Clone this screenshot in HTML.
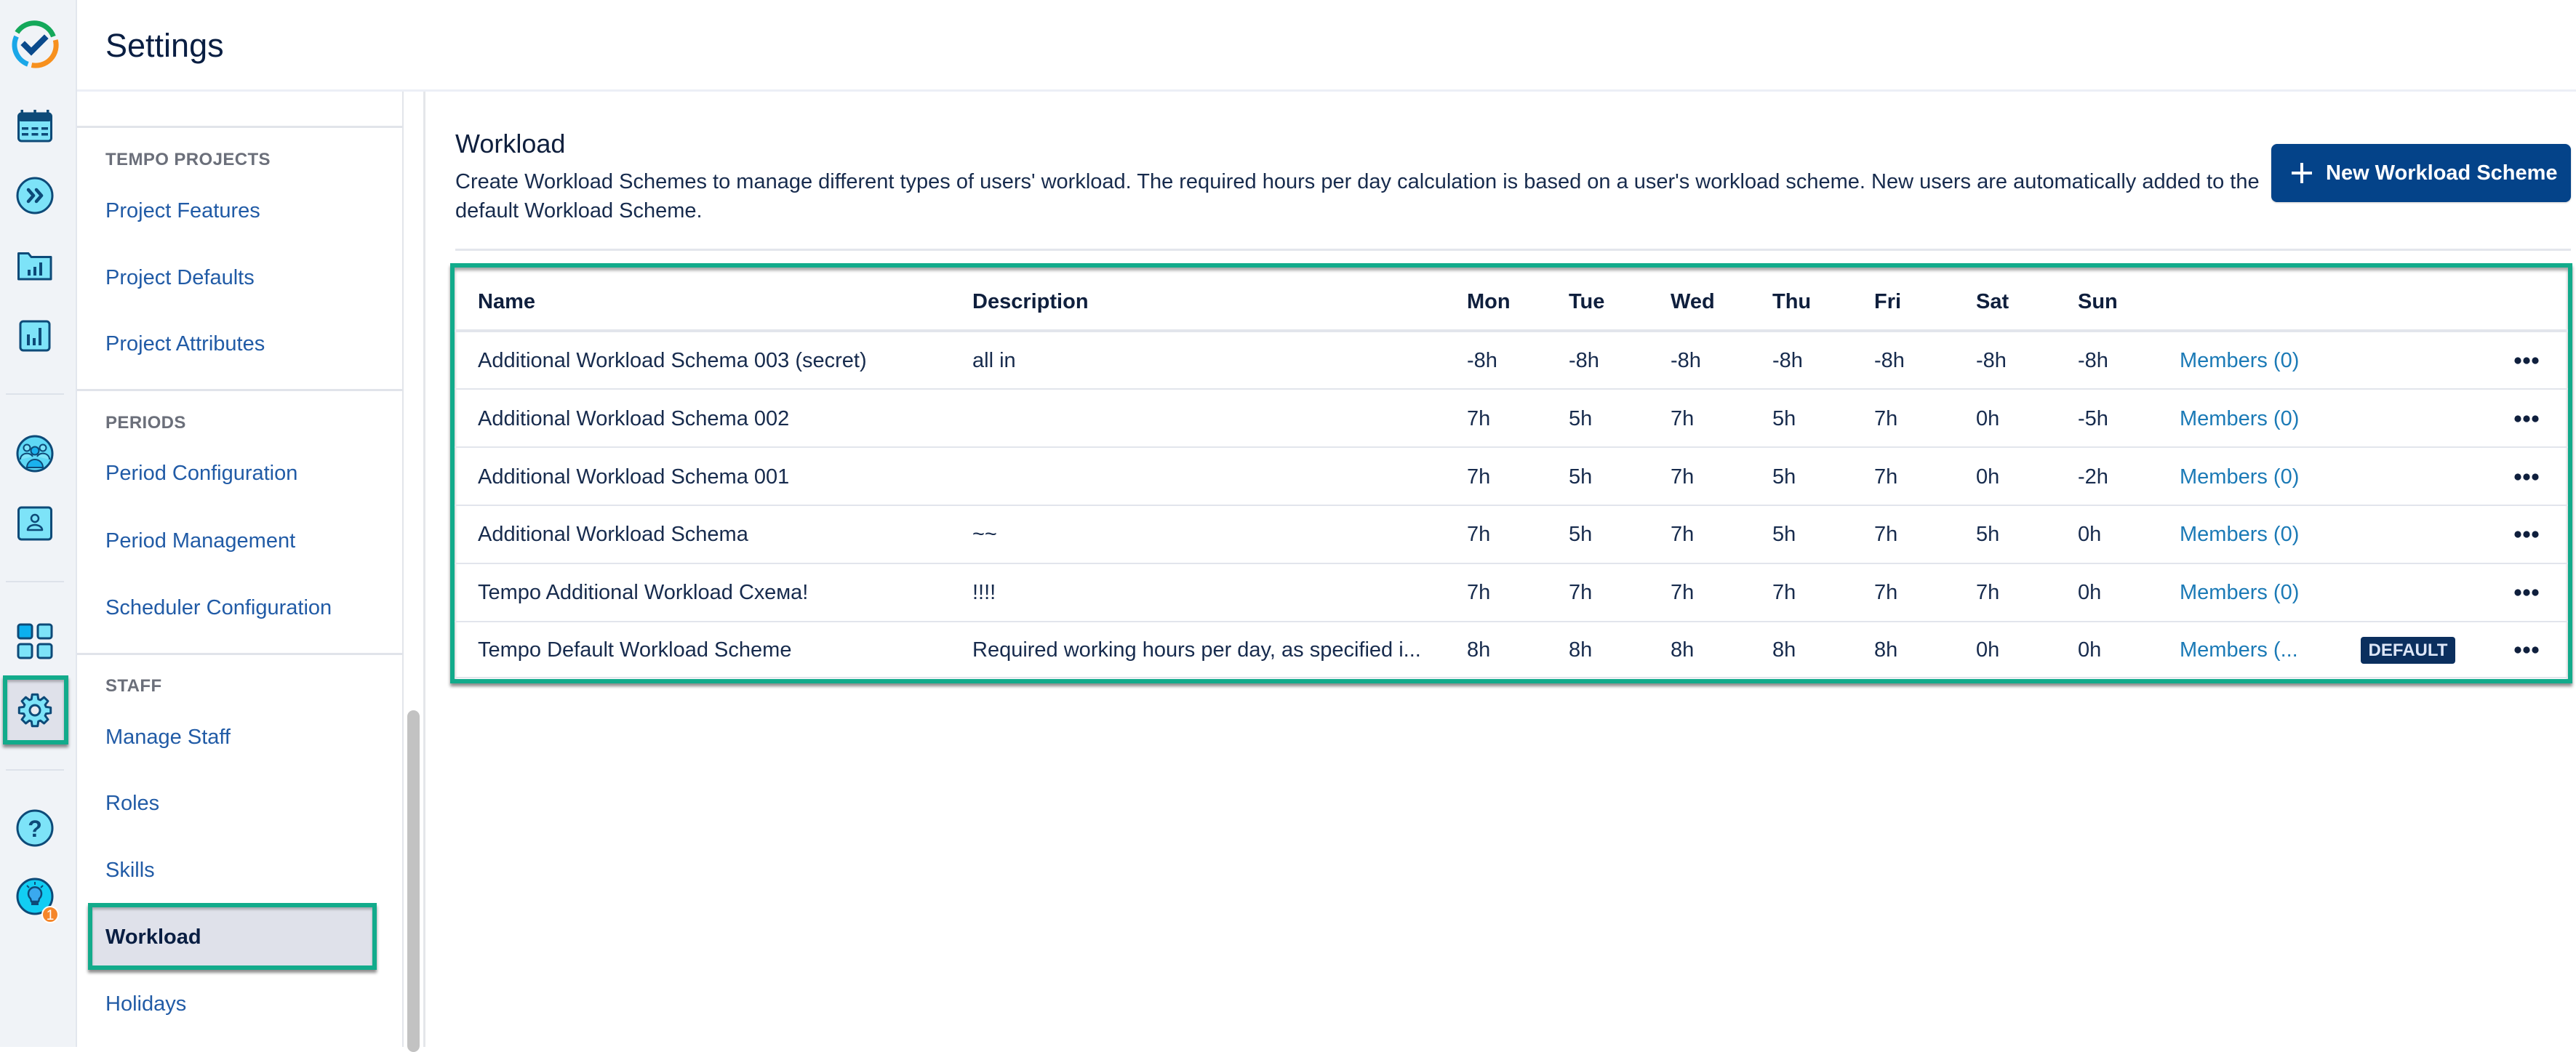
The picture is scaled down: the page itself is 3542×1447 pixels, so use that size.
<!DOCTYPE html>
<html>
<head>
<meta charset="utf-8">
<style>
html,body{margin:0;padding:0;}
body{width:3542px;height:1440px;overflow:hidden;position:relative;background:#fff;font-family:"Liberation Sans",Arial,sans-serif;color:#172b4d;}
.a{position:absolute;}
.t{position:absolute;white-space:nowrap;line-height:40px;height:40px;font-size:29px;}
.lnk{color:#215ba6;left:145px;}
.sec{color:#6b6f7a;font-weight:bold;font-size:24px;letter-spacing:0.4px;left:145px;}
.hd{font-weight:bold;color:#0f1f3d;}
.mem{color:#1b7ab6;}
.hl{position:absolute;background:#e2e5ec;}
</style>
</head>
<body>

<!-- left rail -->
<div class="a" style="left:0;top:0;width:104px;height:1440px;background:#f0f3f7;border-right:2px solid #e3e7ee;"></div>

<!-- gear highlight box -->
<div class="a" style="left:4px;top:929px;width:90px;height:95px;box-sizing:border-box;border:6px solid #12ab8b;background:#dfe1ea;box-shadow:0 4px 4px rgba(0,0,0,0.45), inset 0 3px 3px rgba(0,0,0,0.25);"></div>

<svg class="a" style="left:0;top:0" width="104" height="1440" viewBox="0 0 104 1440">
  <!-- logo -->
  <path d="M23.4,44.8 A28,28 0 0 1 73.4,50.2" fill="none" stroke="#14a85a" stroke-width="7"/>
  <path d="M76.2,55 A28,28 0 0 1 43.5,89.6" fill="none" stroke="#f7901e" stroke-width="7"/>
  <path d="M38.4,88.3 A28,28 0 0 1 22.6,50.2" fill="none" stroke="#1aa7e8" stroke-width="7"/>
  <polyline points="34,62 43,71 61,53" fill="none" stroke="#0a4a8c" stroke-width="8" stroke-linecap="square"/>

  <!-- calendar -->
  <rect x="25.5" y="156" width="45" height="38" rx="4" fill="#7de3f8" stroke="#0d4a78" stroke-width="3"/>
  <rect x="25.5" y="156" width="45" height="11" rx="3" fill="#0d4a78"/>
  <rect x="28.5" y="151" width="3.5" height="8" fill="#0d4a78"/>
  <rect x="46.3" y="151" width="3.5" height="8" fill="#0d4a78"/>
  <rect x="64" y="151" width="3.5" height="8" fill="#0d4a78"/>
  <g fill="#0d4a78">
    <rect x="30" y="175" width="9" height="3.5"/><rect x="43.5" y="175" width="9" height="3.5"/><rect x="57" y="175" width="9" height="3.5"/>
    <rect x="30" y="183" width="9" height="3.5"/><rect x="43.5" y="183" width="9" height="3.5"/><rect x="57" y="183" width="9" height="3.5"/>
  </g>

  <!-- >> circle -->
  <circle cx="48" cy="269" r="24" fill="#7de3f8" stroke="#0d4a78" stroke-width="3"/>
  <polyline points="39,261 46,269 39,277" fill="none" stroke="#0d4a78" stroke-width="4.5" stroke-linecap="round" stroke-linejoin="round"/>
  <polyline points="50,261 57,269 50,277" fill="none" stroke="#0d4a78" stroke-width="4.5" stroke-linecap="round" stroke-linejoin="round"/>

  <!-- folder -->
  <path d="M25.5,348.5 L39,348.5 L43,353.5 L70,353.5 L70,384 L25.5,384 Z" fill="#7de3f8" stroke="#0d4a78" stroke-width="3" stroke-linejoin="round"/>
  <g fill="#0d4a78"><rect x="38" y="371" width="4" height="8"/><rect x="46" y="367" width="4" height="12"/><rect x="54" y="361" width="4" height="18"/></g>

  <!-- chart box -->
  <rect x="28" y="442" width="40" height="40" rx="4" fill="#7de3f8" stroke="#0d4a78" stroke-width="3"/>
  <g fill="#0d4a78"><rect x="37" y="460" width="4" height="15"/><rect x="45" y="465" width="4" height="10"/><rect x="53" y="451" width="4" height="24"/></g>

  <line x1="8" y1="542" x2="88" y2="542" stroke="#dde2ea" stroke-width="2"/>

  <!-- team -->
  <circle cx="48" cy="624" r="24" fill="#5fd8f5" stroke="#0d4a78" stroke-width="3"/>
  <circle cx="37" cy="616" r="4.5" fill="#7de3f8" stroke="#0d4a78" stroke-width="2"/>
  <circle cx="59" cy="616" r="4.5" fill="#7de3f8" stroke="#0d4a78" stroke-width="2"/>
  <path d="M28,632 a9,8 0 0 1 17,-4" fill="#7de3f8" stroke="#0d4a78" stroke-width="2"/>
  <path d="M51,628 a9,8 0 0 1 17,4" fill="#7de3f8" stroke="#0d4a78" stroke-width="2"/>
  <circle cx="48" cy="620" r="5.5" fill="#1ab2ee" stroke="#0d4a78" stroke-width="2"/>
  <path d="M37,643 a11,11 0 0 1 22,0 Z" fill="#1ab2ee" stroke="#0d4a78" stroke-width="2"/>

  <!-- person box -->
  <rect x="25.5" y="698" width="45" height="44" rx="4" fill="#7de3f8" stroke="#0d4a78" stroke-width="3"/>
  <circle cx="48" cy="713" r="5" fill="none" stroke="#0d4a78" stroke-width="2.5"/>
  <path d="M38,729 a10,7 0 0 1 20,0 Z" fill="none" stroke="#0d4a78" stroke-width="2.5" stroke-linejoin="round"/>

  <line x1="8" y1="800" x2="88" y2="800" stroke="#dde2ea" stroke-width="2"/>

  <!-- grid -->
  <rect x="25" y="859" width="19" height="19" rx="3" fill="#0cb0ef" stroke="#0d4a78" stroke-width="3"/>
  <rect x="52" y="859" width="19" height="19" rx="3" fill="#7de3f8" stroke="#0d4a78" stroke-width="3"/>
  <rect x="25" y="886" width="19" height="19" rx="3" fill="#7de3f8" stroke="#0d4a78" stroke-width="3"/>
  <rect x="52" y="886" width="19" height="19" rx="3" fill="#7de3f8" stroke="#0d4a78" stroke-width="3"/>

  <!-- gear -->
  <polygon points="63.3,972.3 69.7,973.2 69.7,980.8 63.3,981.7 62.1,984.5 66,989.6 60.6,995 55.5,991.1 52.7,992.3 51.8,998.7 44.2,998.7 43.3,992.3 40.5,991.1 35.4,995 30,989.6 33.9,984.5 32.7,981.7 26.3,980.8 26.3,973.2 32.7,972.3 33.9,969.5 30,964.4 35.4,959 40.5,962.9 43.3,961.7 44.2,955.3 51.8,955.3 52.7,961.7 55.5,962.9 60.6,959 66,964.4 62.1,969.5" fill="#7de3f8" stroke="#0d4a78" stroke-width="3" stroke-linejoin="round"/>
  <circle cx="48" cy="977" r="7" fill="#e8eaf0" stroke="#0d4a78" stroke-width="3"/>

  <line x1="8" y1="1059" x2="88" y2="1059" stroke="#dde2ea" stroke-width="2"/>

  <!-- help -->
  <circle cx="48" cy="1139" r="24" fill="#7de3f8" stroke="#0d4a78" stroke-width="3"/>
  <text x="48" y="1151" text-anchor="middle" font-family="Liberation Sans, sans-serif" font-weight="bold" font-size="32" fill="#0d4a78">?</text>

  <!-- bulb -->
  <circle cx="48" cy="1233" r="24" fill="#12cdf3" stroke="#0d4a78" stroke-width="3"/>
  <path d="M42,1236 a9,9 0 1 1 12,0 L53,1240 L43,1240 Z" fill="#3aa9ee" stroke="#0d4a78" stroke-width="2.5" stroke-linejoin="round"/>
  <rect x="43" y="1241" width="10" height="4" fill="#0d4a78"/>
  <g stroke="#0d4a78" stroke-width="2"><line x1="48" y1="1213" x2="48" y2="1217"/><line x1="37" y1="1218" x2="40" y2="1221"/><line x1="59" y1="1218" x2="56" y2="1221"/></g>
  <circle cx="69" cy="1258" r="11" fill="#f5862a" stroke="#fff" stroke-width="2"/>
  <text x="69" y="1265" text-anchor="middle" font-family="Liberation Sans, sans-serif" font-size="19" fill="#fff">1</text>
</svg>

<!-- header -->
<div class="a" style="left:106px;top:0;width:3436px;height:123px;background:#fff;border-bottom:3px solid #eceff6;"></div>
<div class="t" style="left:145px;top:38px;height:50px;line-height:50px;font-size:45px;color:#091e42;">Settings</div>

<!-- sidebar -->
<div class="a" style="left:553px;top:126px;width:2px;height:1314px;background:#e2e5ea;"></div>
<div class="a" style="left:582px;top:126px;width:3px;height:1314px;background:#e4e6ea;"></div>
<div class="a" style="left:560px;top:977px;width:17px;height:470px;border-radius:9px;background:#c2c2c2;"></div>

<div class="a" style="left:106px;top:173px;width:447px;height:3px;background:#e1e4ea;"></div>
<div class="a" style="left:106px;top:535px;width:447px;height:3px;background:#e1e4ea;"></div>
<div class="a" style="left:106px;top:898px;width:447px;height:3px;background:#e1e4ea;"></div>

<div class="t sec" style="top:200px;">TEMPO PROJECTS</div>
<div class="t lnk" style="top:270px;">Project Features</div>
<div class="t lnk" style="top:362px;">Project Defaults</div>
<div class="t lnk" style="top:453px;">Project Attributes</div>
<div class="t sec" style="top:562px;">PERIODS</div>
<div class="t lnk" style="top:631px;">Period Configuration</div>
<div class="t lnk" style="top:724px;">Period Management</div>
<div class="t lnk" style="top:816px;">Scheduler Configuration</div>
<div class="t sec" style="top:924px;">STAFF</div>
<div class="t lnk" style="top:994px;">Manage Staff</div>
<div class="t lnk" style="top:1085px;">Roles</div>
<div class="t lnk" style="top:1177px;">Skills</div>
<div class="a" style="left:121px;top:1242px;width:397px;height:92px;box-sizing:border-box;border:6px solid #12ab8b;background:#dfe1ea;box-shadow:0 4px 4px rgba(0,0,0,0.45), inset 0 3px 3px rgba(0,0,0,0.25);"></div>
<div class="t" style="left:145px;top:1269px;font-weight:bold;color:#091e42;">Workload</div>
<div class="t lnk" style="top:1361px;">Holidays</div>

<!-- main -->
<div class="t" style="left:626px;top:175px;height:46px;line-height:46px;font-size:36px;color:#0f1f3d;">Workload</div>
<div class="t" style="left:626px;top:230px;">Create Workload Schemes to manage different types of users' workload. The required hours per day calculation is based on a user's workload scheme. New users are automatically added to the</div>
<div class="t" style="left:626px;top:270px;">default Workload Scheme.</div>

<div class="a" style="left:3123px;top:198px;width:412px;height:80px;border-radius:8px;background:#044389;box-shadow:0 1px 2px rgba(0,0,0,0.2);"></div>
<div class="a" style="left:3151px;top:236px;width:28px;height:4px;background:#fff;"></div>
<div class="a" style="left:3163px;top:224px;width:4px;height:28px;background:#fff;"></div>
<div class="t" style="left:3198px;top:218px;font-weight:bold;color:#fff;">New Workload Scheme</div>

<div class="a" style="left:626px;top:342px;width:2909px;height:3px;background:#e3e6ec;"></div>

<!-- table box -->
<div class="a" style="left:619px;top:362px;width:2918px;height:578px;box-sizing:border-box;border:6px solid #12ab8b;box-shadow:0 4px 4px rgba(0,0,0,0.45), inset 0 4px 4px rgba(0,0,0,0.35);"></div>

<div class="hl" style="left:625px;top:453px;width:2906px;height:4px;"></div>
<div class="hl" style="left:625px;top:534px;width:2906px;height:2px;"></div>
<div class="hl" style="left:625px;top:614px;width:2906px;height:2px;"></div>
<div class="hl" style="left:625px;top:694px;width:2906px;height:2px;"></div>
<div class="hl" style="left:625px;top:774px;width:2906px;height:2px;"></div>
<div class="hl" style="left:625px;top:854px;width:2906px;height:2px;"></div>
<div class="hl" style="left:625px;top:931px;width:2906px;height:2px;"></div>

<!-- header row -->
<div class="t hd" style="left:657px;top:395px;">Name</div>
<div class="t hd" style="left:1337px;top:395px;">Description</div>
<div class="t hd" style="left:2017px;top:395px;">Mon</div>
<div class="t hd" style="left:2157px;top:395px;">Tue</div>
<div class="t hd" style="left:2297px;top:395px;">Wed</div>
<div class="t hd" style="left:2437px;top:395px;">Thu</div>
<div class="t hd" style="left:2577px;top:395px;">Fri</div>
<div class="t hd" style="left:2717px;top:395px;">Sat</div>
<div class="t hd" style="left:2857px;top:395px;">Sun</div>

<!-- row 1 -->
<div class="t" style="left:657px;top:476px;">Additional Workload Schema 003 (secret)</div>
<div class="t" style="left:1337px;top:476px;">all in</div>
<div class="t" style="left:2017px;top:476px;">-8h</div>
<div class="t" style="left:2157px;top:476px;">-8h</div>
<div class="t" style="left:2297px;top:476px;">-8h</div>
<div class="t" style="left:2437px;top:476px;">-8h</div>
<div class="t" style="left:2577px;top:476px;">-8h</div>
<div class="t" style="left:2717px;top:476px;">-8h</div>
<div class="t" style="left:2857px;top:476px;">-8h</div>
<div class="t mem" style="left:2997px;top:476px;">Members (0)</div>

<!-- row 2 -->
<div class="t" style="left:657px;top:556px;">Additional Workload Schema 002</div>
<div class="t" style="left:2017px;top:556px;">7h</div>
<div class="t" style="left:2157px;top:556px;">5h</div>
<div class="t" style="left:2297px;top:556px;">7h</div>
<div class="t" style="left:2437px;top:556px;">5h</div>
<div class="t" style="left:2577px;top:556px;">7h</div>
<div class="t" style="left:2717px;top:556px;">0h</div>
<div class="t" style="left:2857px;top:556px;">-5h</div>
<div class="t mem" style="left:2997px;top:556px;">Members (0)</div>

<!-- row 3 -->
<div class="t" style="left:657px;top:636px;">Additional Workload Schema 001</div>
<div class="t" style="left:2017px;top:636px;">7h</div>
<div class="t" style="left:2157px;top:636px;">5h</div>
<div class="t" style="left:2297px;top:636px;">7h</div>
<div class="t" style="left:2437px;top:636px;">5h</div>
<div class="t" style="left:2577px;top:636px;">7h</div>
<div class="t" style="left:2717px;top:636px;">0h</div>
<div class="t" style="left:2857px;top:636px;">-2h</div>
<div class="t mem" style="left:2997px;top:636px;">Members (0)</div>

<!-- row 4 -->
<div class="t" style="left:657px;top:715px;">Additional Workload Schema</div>
<div class="t" style="left:1337px;top:715px;">~~</div>
<div class="t" style="left:2017px;top:715px;">7h</div>
<div class="t" style="left:2157px;top:715px;">5h</div>
<div class="t" style="left:2297px;top:715px;">7h</div>
<div class="t" style="left:2437px;top:715px;">5h</div>
<div class="t" style="left:2577px;top:715px;">7h</div>
<div class="t" style="left:2717px;top:715px;">5h</div>
<div class="t" style="left:2857px;top:715px;">0h</div>
<div class="t mem" style="left:2997px;top:715px;">Members (0)</div>

<!-- row 5 -->
<div class="t" style="left:657px;top:795px;">Tempo Additional Workload Схема!</div>
<div class="t" style="left:1337px;top:795px;">!!!!</div>
<div class="t" style="left:2017px;top:795px;">7h</div>
<div class="t" style="left:2157px;top:795px;">7h</div>
<div class="t" style="left:2297px;top:795px;">7h</div>
<div class="t" style="left:2437px;top:795px;">7h</div>
<div class="t" style="left:2577px;top:795px;">7h</div>
<div class="t" style="left:2717px;top:795px;">7h</div>
<div class="t" style="left:2857px;top:795px;">0h</div>
<div class="t mem" style="left:2997px;top:795px;">Members (0)</div>

<!-- row 6 -->
<div class="t" style="left:657px;top:874px;">Tempo Default Workload Scheme</div>
<div class="t" style="left:1337px;top:874px;">Required working hours per day, as specified i...</div>
<div class="t" style="left:2017px;top:874px;">8h</div>
<div class="t" style="left:2157px;top:874px;">8h</div>
<div class="t" style="left:2297px;top:874px;">8h</div>
<div class="t" style="left:2437px;top:874px;">8h</div>
<div class="t" style="left:2577px;top:874px;">8h</div>
<div class="t" style="left:2717px;top:874px;">0h</div>
<div class="t" style="left:2857px;top:874px;">0h</div>
<div class="t mem" style="left:2997px;top:874px;">Members (...</div>
<div class="a" style="left:3246px;top:876px;width:130px;height:37px;border-radius:4px;background:#0b2f5e;color:#dde6f7;font-weight:bold;font-size:24px;line-height:37px;text-align:center;">DEFAULT</div>

<!-- dots -->
<svg class="a" style="left:3450px;top:470px" width="50" height="440" viewBox="0 0 50 440">
  <g fill="#0f1f3d">
    <circle cx="12" cy="26" r="4.6"/><circle cx="24" cy="26" r="4.6"/><circle cx="36" cy="26" r="4.6"/>
    <circle cx="12" cy="106" r="4.6"/><circle cx="24" cy="106" r="4.6"/><circle cx="36" cy="106" r="4.6"/>
    <circle cx="12" cy="186" r="4.6"/><circle cx="24" cy="186" r="4.6"/><circle cx="36" cy="186" r="4.6"/>
    <circle cx="12" cy="265" r="4.6"/><circle cx="24" cy="265" r="4.6"/><circle cx="36" cy="265" r="4.6"/>
    <circle cx="12" cy="345" r="4.6"/><circle cx="24" cy="345" r="4.6"/><circle cx="36" cy="345" r="4.6"/>
    <circle cx="12" cy="424" r="4.6"/><circle cx="24" cy="424" r="4.6"/><circle cx="36" cy="424" r="4.6"/>
  </g>
</svg>

</body>
</html>
